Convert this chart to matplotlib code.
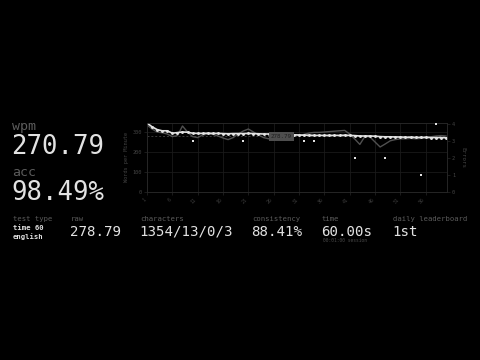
import matplotlib
matplotlib.use("Agg")
import matplotlib.pyplot as plt
import numpy as np

# ---------------- data ----------------
seconds = list(range(1, 61))
wpm = [345, 326, 312, 306, 306, 294, 297, 300, 299, 294,
       293, 293, 294, 293, 293, 292, 291, 292, 292, 292,
       293, 292, 291, 290, 290, 289, 288, 288, 287, 286,
       285, 284, 284, 283, 283, 283, 283, 283, 283, 284,
       283, 282, 280, 280, 280, 279, 277, 276, 276, 275,
       275, 274, 274, 273, 273, 273, 272, 272, 272, 271]
raw = [335, 315, 300, 296, 290, 277, 282, 330, 300, 277,
       272, 285, 290, 288, 280, 270, 262, 272, 290, 305,
       315, 300, 285, 272, 266, 280, 290, 292, 290, 285,
       283, 288, 295, 298, 298, 300, 302, 304, 306, 308,
       290, 265, 238, 278, 275, 250, 225, 240, 256, 262,
       266, 266, 268, 266, 268, 272, 276, 280, 282, 280]
err_sec = [10, 20, 32, 34, 42, 48, 55, 58]
err_cnt = [3, 3, 3, 3, 2, 2, 1, 4]
avg_line = 278.79
avg_label = "278.79"
xtick_vals = [1, 6, 11, 16, 21, 26, 31, 36, 41, 46, 51, 56]
wpm_ticks = [0, 100, 200, 300]
err_ticks = [0, 1, 2, 3, 4]

big_stats = [("wpm", "270.79"), ("acc", "98.49%")]
row_labels = ["test type", "raw", "characters", "consistency", "time", "daily leaderboard"]
row_values = ["", "278.79", "1354/13/0/3", "88.41%", "60.00s", "1st"]
test_type = "time 60\nenglish"
session_note = "00:01:00 session"

# ---------------- style ----------------
BG = "#000000"
SUB = "#5c5c5c"
MAIN = "#e2e2e2"
GRID = "#1a1a1a"
FONT = "DejaVu Sans Mono"

W, H = 480, 360
fig = plt.figure(figsize=(4.8, 3.6), dpi=100, facecolor=BG)

def fx(x):
    return x / W

def fy(y):
    return 1 - y / H

# ---------------- chart ----------------
left, right, top, bottom = 147, 447, 123, 192
ax = fig.add_axes([fx(left), fy(bottom), fx(right) - fx(left), fy(top) - fy(bottom)])
ax.set_facecolor(BG)
ax2 = ax.twinx()

ax.plot(seconds, raw, color="#505050", lw=1.0, zorder=2)
ax.plot(seconds, wpm, color=MAIN, lw=1.2, marker="o", ms=1.1, mec=MAIN, mfc=MAIN, zorder=3)
ax.axhline(avg_line, color="#3a3a3a", lw=0.7, ls=(0, (2, 2)), zorder=1)
ax.text(27.5, avg_line, avg_label, ha="center", va="center", fontsize=4.2,
        family=FONT, color="#1e1e1e", zorder=5,
        bbox=dict(boxstyle="square,pad=0.35", fc="#4e4e4e", ec="none"))

ax2.scatter(err_sec, err_cnt, marker="s", s=4, color=MAIN, zorder=4, linewidths=0)

ax.set_xlim(1, 60.2)
ax.set_ylim(0, 345)
ax2.set_ylim(0, 4.05)

ax.set_xticks(xtick_vals)
ax.set_xticklabels([str(v) for v in xtick_vals], rotation=45, ha="right",
                   fontsize=3.5, color="#3c3c3c", family=FONT)
ax.set_yticks(wpm_ticks)
ax.set_yticklabels([str(v) for v in wpm_ticks], fontsize=3.8, color="#444444", family=FONT)
ax2.set_yticks(err_ticks)
ax2.set_yticklabels([str(v) for v in err_ticks], fontsize=3.8, color="#444444", family=FONT)

ax.grid(True, color=GRID, lw=0.6)
ax.set_axisbelow(True)
for a in (ax, ax2):
    for s in a.spines.values():
        s.set_color("#262626")
        s.set_linewidth(0.6)
    a.tick_params(length=2, width=0.5, color="#262626", pad=1.5)

ax.set_ylabel("Words per Minute", fontsize=3.8, color="#444444", family=FONT, labelpad=3)
ax2.set_ylabel("Errors", fontsize=4.2, color="#444444", family=FONT, labelpad=4, rotation=270, va="bottom")

# ---------------- big stats ----------------
big_y = [(129.5, 154.5), (175.5, 200.5)]
for (lab, val), (ly, vy) in zip(big_stats, big_y):
    fig.text(fx(12), fy(ly), lab, fontsize=9.5, color=SUB, family=FONT, va="baseline", ha="left")
    fig.text(fx(11), fy(vy), val, fontsize=18.5, color=MAIN, family=FONT, va="baseline", ha="left")

# ---------------- bottom row ----------------
col_x = [13, 71, 140, 252, 322, 393]
for x, lab, val in zip(col_x, row_labels, row_values):
    fig.text(fx(x), fy(221), lab, fontsize=5.2, color=SUB, family=FONT, va="baseline", ha="left")
    if val:
        fig.text(fx(x - 1), fy(235.5), val, fontsize=10.2, color=MAIN, family=FONT,
                 va="baseline", ha="left")
fig.text(fx(13), fy(230), test_type.split("\n")[0], fontsize=5.2, color=MAIN, family=FONT,
         weight="bold", va="baseline", ha="left")
fig.text(fx(13), fy(238.5), test_type.split("\n")[1], fontsize=5.2, color=MAIN, family=FONT,
         weight="bold", va="baseline", ha="left")
fig.text(fx(323), fy(241.5), session_note, fontsize=3.3, color="#4a4a4a", family=FONT,
         va="baseline", ha="left")

fig.savefig("out.png", dpi=100, facecolor=BG)
